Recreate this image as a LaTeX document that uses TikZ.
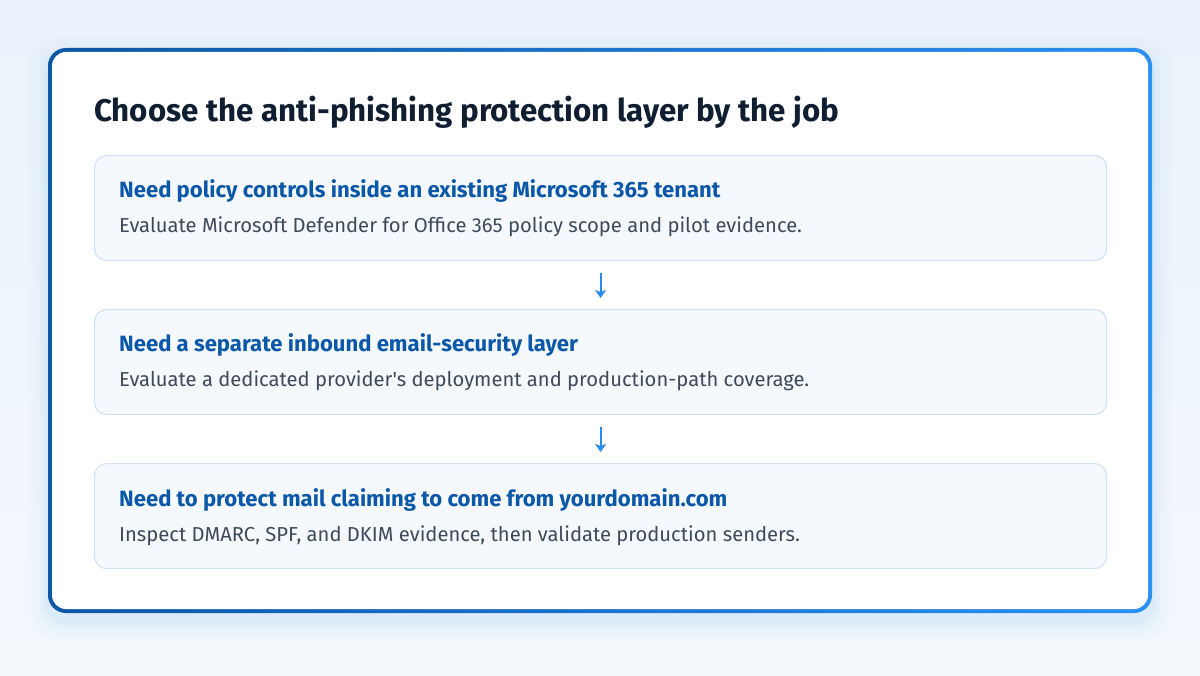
\documentclass[tikz,border=0pt]{standalone}
\usepackage{fontspec}
\setmainfont{Fira Sans}[Ligatures=TeXOff]
\usetikzlibrary{arrows.meta}
\definecolor{bgA}{HTML}{EAF2FB}
\definecolor{bgB}{HTML}{F3F8FD}
\definecolor{frameA}{HTML}{0B57A4}
\definecolor{frameB}{HTML}{2B90F2}
\definecolor{cardfill}{HTML}{F5F9FE}
\definecolor{carddraw}{HTML}{D3E2F2}
\definecolor{titlecol}{HTML}{0F1E30}
\definecolor{headcol}{HTML}{0B58A8}
\definecolor{subcol}{HTML}{3E4A59}
\definecolor{arrowcol}{HTML}{2A8CEB}
\tikzset{
  card/.style={draw=carddraw, line width=1.2pt, fill=cardfill, rounded corners=12pt,
    minimum width=1012pt, minimum height=105pt, anchor=north west, inner sep=0pt},
  headtxt/.style={anchor=base west, inner sep=0pt, text=headcol, font=\fontsize{22.1}{26}\selectfont\bfseries},
  subtxt/.style={anchor=base west, inner sep=0pt, text=subcol, font=\fontsize{20.2}{24}\selectfont},
  flow/.style={draw=arrowcol, line width=2pt, -{Stealth[length=8pt,width=11pt,inset=2pt]}}
}
\begin{document}
\begin{tikzpicture}[x=1pt,y=-1pt]
\useasboundingbox (0,0) rectangle (1200,676);
\shade[top color=bgA, bottom color=bgB] (0,0) rectangle (1200,676);
% soft glow
\foreach \i/\o in {18/0.015,13/0.02,8/0.03,4/0.04}{
  \fill[frameB, opacity=\o, rounded corners=24pt] (48-\i,48-\i+8) rectangle (1152+\i,613+\i+8);
}
\shade[left color=frameA, right color=frameB, rounded corners=18pt] (48,48) rectangle (1152,613);
\fill[white, rounded corners=14pt] (52,52) rectangle (1148,609);
\node[anchor=base west, inner sep=0pt, text=titlecol, font=\fontsize{31.3}{36}\selectfont\bfseries] (title) at (94,122) {Choose the anti-phishing protection layer by the job};

\node[card] (b1) at (94,155) {};
\node[card] (b2) at (94,309) {};
\node[card] (b3) at (94,463) {};

\node[headtxt] (h1) at ([xshift=25pt,yshift=-43pt]b1.north west) {Need policy controls inside an existing Microsoft 365 tenant};
\node[subtxt] (s1) at ([xshift=25pt,yshift=-78pt]b1.north west) {Evaluate Microsoft Defender for Office 365 policy scope and pilot evidence.};
\node[headtxt] (h2) at ([xshift=25pt,yshift=-43pt]b2.north west) {Need a separate inbound email-security layer};
\node[subtxt] (s2) at ([xshift=25pt,yshift=-78pt]b2.north west) {Evaluate a dedicated provider's deployment and production-path coverage.};
\node[headtxt] (h3) at ([xshift=25pt,yshift=-43pt]b3.north west) {Need to protect mail claiming to come from yourdomain.com};
\node[subtxt] (s3) at ([xshift=25pt,yshift=-78pt]b3.north west) {Inspect DMARC, SPF, and DKIM evidence, then validate production senders.};

\draw[flow] ([yshift=-12pt]b1.south) -- ([yshift=11pt]b2.north);
\draw[flow] ([yshift=-12pt]b2.south) -- ([yshift=11pt]b3.north);
\end{tikzpicture}
\end{document}
